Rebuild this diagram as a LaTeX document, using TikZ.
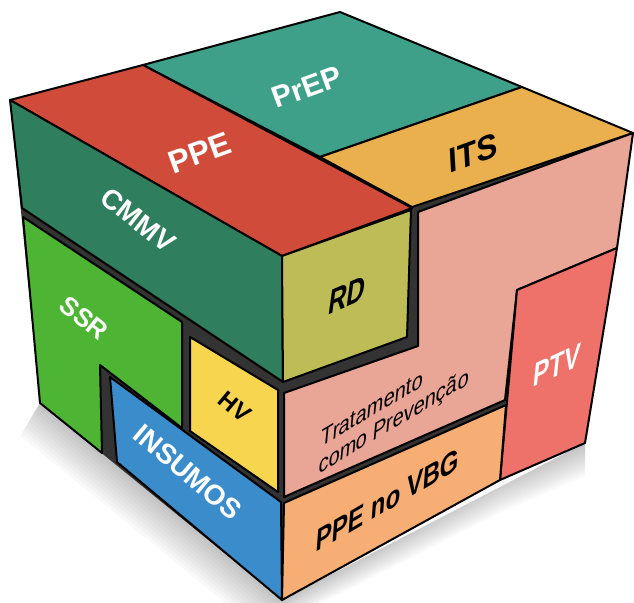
\documentclass[tikz,border=0pt]{standalone}
\usepackage{fontspec}
\setmainfont{Liberation Sans}
\usepackage{tikz}
\definecolor{prepc}{HTML}{3FA08A}
\definecolor{itsc}{HTML}{EBB04E}
\definecolor{ppec}{HTML}{D14B3B}
\definecolor{cmmvc}{HTML}{2F7F5E}
\definecolor{ssrc}{HTML}{4DB533}
\definecolor{rdc}{HTML}{BEBC57}
\definecolor{hvc}{HTML}{F7D54E}
\definecolor{insc}{HTML}{3B8CCB}
\definecolor{tratc}{HTML}{E9A595}
\definecolor{ptvc}{HTML}{EE716A}
\definecolor{vbgc}{HTML}{F6AE74}
\definecolor{bandc}{HTML}{333333}

\begin{document}
\begin{tikzpicture}[x=1pt, y=-1pt,
    face/.style={draw=black, line width=2pt, line join=round},
    wlbl/.style={text=white, inner sep=0pt, font=\bfseries\fontsize{28}{28}\selectfont},
    blbl/.style={text=black, inner sep=0pt, font=\bfseries\fontsize{28}{28}\selectfont},
  ]
    \useasboundingbox (0,0) rectangle (634,602);

    % === soft shadow under the cube ===
    \foreach \s in {3,6,...,33}
      \fill[black, opacity=0.022] (40-0.6*\s,403+\s) -- (282-0.6*\s,600+\s)
        -- (500,480+\s) -- (585,443+\s) -- (585,443) -- (282,600) -- (40,403) -- cycle;

    % === dark body (shows through the gaps) ===
    \fill[bandc] (10,100) -- (340,12) -- (633,133) -- (585,443) -- (500,480)
      -- (282,600) -- (40,403) -- cycle;

    % === top face ===
    \filldraw[face, fill=prepc] (143,65) -- (340,12) -- (522,87) -- (320,157) -- cycle;
    \filldraw[face, fill=itsc] (320,157) -- (522,87) -- (633,133) -- (412,207) -- cycle;
    \filldraw[face, fill=ppec] (10,100) -- (143,65) -- (412,208) -- (282,256) -- cycle;

    % === left face ===
    \filldraw[face, fill=cmmvc] (10,100) -- (282,256) -- (283,382) -- (22,208) -- cycle;
    \filldraw[face, fill=ssrc] (23,217) -- (182,322) -- (182,428) -- (100,365)
      -- (102,453) -- (40,403) -- cycle;
    \filldraw[face, fill=hvc] (190,337) -- (278,390) -- (278,492) -- (190,431) -- cycle;
    \filldraw[face, fill=insc] (110,377) -- (281,502) -- (282,600) -- (117,462) -- cycle;

    % === right face ===
    \filldraw[face, fill=rdc] (282,256) -- (411,210) -- (407,337) -- (283,382) -- cycle;
    \filldraw[face, fill=tratc] (418,212) -- (633,133) -- (617,248) -- (517,290)
      -- (505,400) -- (284,497) -- (284,393) -- (418,346) -- cycle;
    \filldraw[face, fill=ptvc] (517,290) -- (617,248) -- (585,443) -- (500,480) -- cycle;
    \filldraw[face, fill=vbgc] (284,503) -- (506,405) -- (500,480) -- (282,600) -- cycle;

    % === labels ===
    \node[wlbl, rotate=20, font=\bfseries\fontsize{30}{30}\selectfont] (prep) at (307,87) {PrEP};
    \node[wlbl, rotate=20, font=\bfseries\fontsize{32}{32}\selectfont] (ppe) at (200,153) {PPE};
    \node[blbl, rotate=20, xslant=0.3, font=\bfseries\fontsize{33}{33}\selectfont] (its) at (473,153) {ITS};
    \node[wlbl, rotate=-38] (cmmv) at (138,220) {CMMV};
    \node[wlbl, rotate=-39, font=\bfseries\fontsize{26}{26}\selectfont] (ssr) at (84,318) {SSR};
    \node[blbl, rotate=-40, font=\bfseries\fontsize{24}{24}\selectfont] (hv) at (235,407) {HV};
    \node[wlbl, rotate=-40] (insumos) at (188,472) {INSUMOS};
    \node[blbl, xscale=0.7, cm={1,0.3,0.2,1,(0,0)}, font=\bfseries\fontsize{36}{36}\selectfont] (rd) at (347,295) {RD};
    \node[blbl, align=left, xscale=0.8, cm={1,0.48,0.12,1,(0,0)},
      font=\fontsize{25}{27}\selectfont] (trat) at (395,410) {Tratamento\\como Prevenção};
    \node[wlbl, xscale=0.7, cm={1,0.33,0.15,1,(0,0)}, font=\bfseries\fontsize{34}{34}\selectfont] (ptv) at (557,365) {PTV};
    \node[blbl, xscale=0.75, cm={1,0.44,0.1,1,(0,0)}, font=\bfseries\fontsize{32}{32}\selectfont] (vbg) at (388,500) {PPE no VBG};
  \end{tikzpicture}
\end{document}
